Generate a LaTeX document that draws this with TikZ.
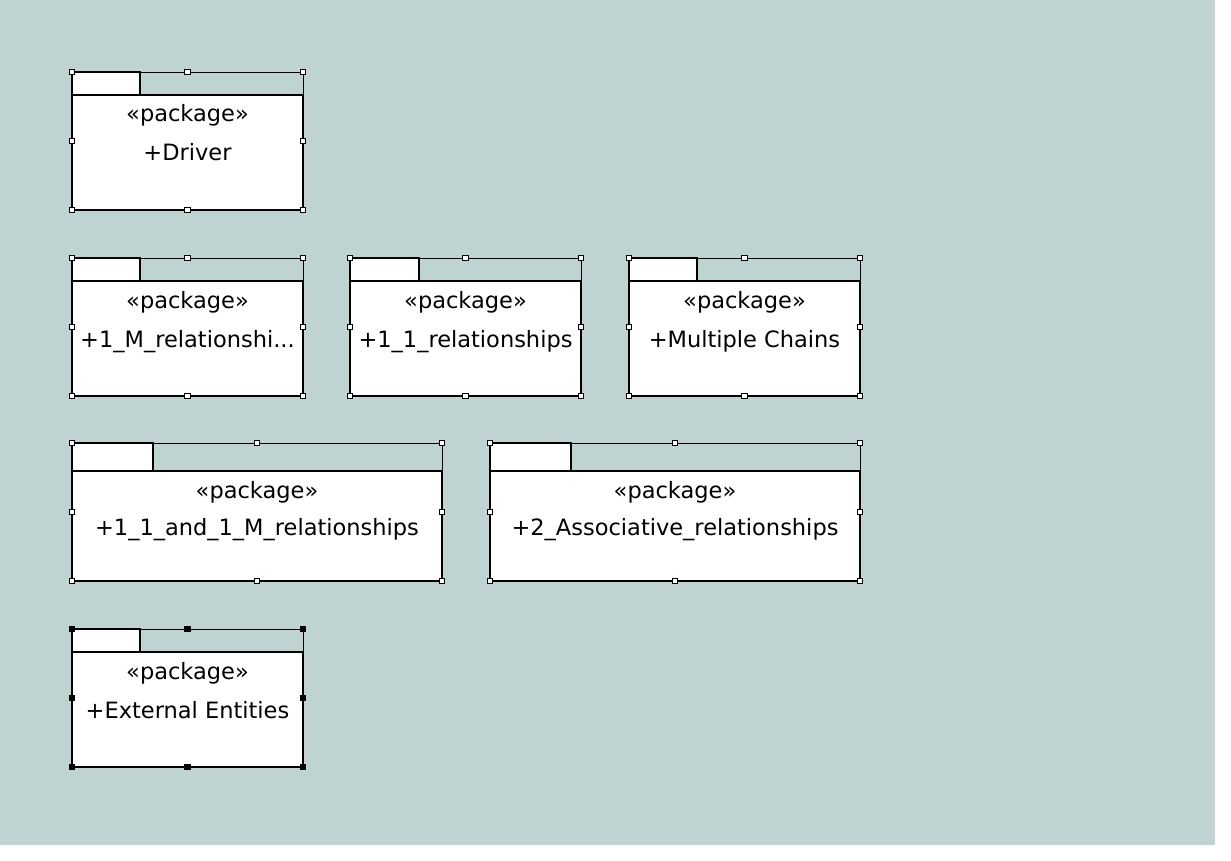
\documentclass[tikz,border=0pt]{standalone}
\usepackage{fontspec}
\setmainfont{DejaVu Sans}
\definecolor{bgc}{HTML}{BED3D2}
\tikzset{
  selframe/.style={draw=black,line width=0.8pt},
  pkgbody/.style={draw=black,fill=white,line width=1.8pt},
  pkgtab/.style={draw=black,fill=white,line width=1.4pt},
  handle/.style={draw=black,fill=white,line width=0.8pt,minimum size=5.5pt,inner sep=0pt,outer sep=0pt},
  handleb/.style={handle,fill=black},
  pkgtext/.style={font=\fontsize{22.5}{26}\selectfont,inner sep=0pt,anchor=base},
}
\newcommand\umlpkg[9]{%
  \pgfmathsetmacro\mx{(#2+#4)/2}%
  \pgfmathsetmacro\my{(#3+#5)/2}%
  \pgfmathsetmacro\ya{#3+#8}%
  \pgfmathsetmacro\yb{#3+#9}%
  \fill[bgc] (#2,#3) rectangle (#4,#5);
  \draw[selframe] (#2,#3) rectangle (#4,#5);
  \draw[pkgtab] (#2,#3) rectangle (#6,#7);
  \draw[pkgbody] (#2,#7) rectangle (#4,#5);
  \node[pkgtext] (#1s) at (\mx,\ya) {«package»};
  \node[pkgtext] (#1n) at (\mx,\yb) {\pkgname};
  \node[\hstyle] (#1ha) at (#2,#3) {};
  \node[\hstyle] (#1hb) at (\mx,#3) {};
  \node[\hstyle] (#1hc) at (#4,#3) {};
  \node[\hstyle] (#1hd) at (#2,\my) {};
  \node[\hstyle] (#1he) at (#4,\my) {};
  \node[\hstyle] (#1hf) at (#2,#5) {};
  \node[\hstyle] (#1hg) at (\mx,#5) {};
  \node[\hstyle] (#1hh) at (#4,#5) {};
}
\begin{document}
\begin{tikzpicture}[x=1pt,y=-1pt]
\useasboundingbox (0,0) rectangle (1231,861);
\fill[white] (0,0) rectangle (1231,861);
\fill[bgc] (0,0) rectangle (1215,845);
\def\hstyle{handle}
\def\pkgname{+Driver}
\umlpkg{drv}{72}{72}{303}{210}{140}{95}{50}{89}
\def\pkgname{+1\_M\_relationshi...}
\umlpkg{om}{72}{258}{303}{396}{140}{281}{50}{89}
\def\pkgname{+1\_1\_relationships}
\umlpkg{oo}{350}{258}{581}{396}{419}{281}{50}{89}
\def\pkgname{+Multiple Chains}
\umlpkg{mc}{629}{258}{860}{396}{697}{281}{50}{89}
\def\pkgname{+1\_1\_and\_1\_M\_relationships}
\umlpkg{oom}{72}{443}{442}{581}{153}{471}{55}{92}
\def\pkgname{+2\_Associative\_relationships}
\umlpkg{as}{490}{443}{860}{581}{571}{471}{55}{92}
\def\hstyle{handleb}
\def\pkgname{+External Entities}
\umlpkg{ext}{72}{629}{303}{767}{140}{652}{50}{89}
\end{tikzpicture}
\end{document}
